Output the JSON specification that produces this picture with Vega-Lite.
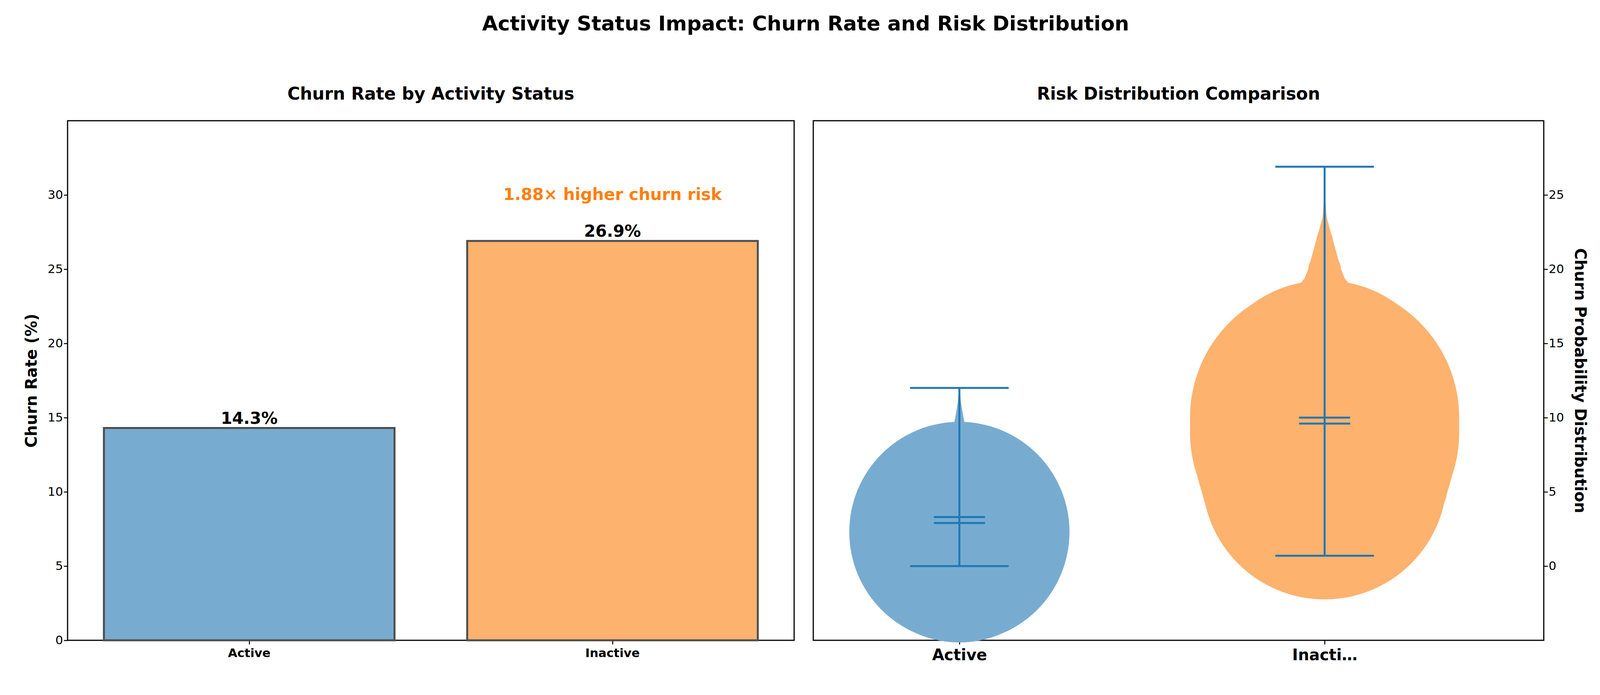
{
"$schema":"https://vega.github.io/schema/vega-lite/v6.json",
"padding":{"left":60,"top":35,"right":20,"bottom":10},
"title":{"text":"Activity Status Impact: Churn Rate and Risk Distribution","fontSize":52,"fontWeight":"bold","font":"DejaVu Sans","anchor":"middle","offset":130,"color":"#000"},
"config":{"view":{"stroke":"#000","strokeWidth":3},"font":"DejaVu Sans","axis":{"labelFont":"DejaVu Sans","titleFont":"DejaVu Sans","labelColor":"#000","titleColor":"#000","tickColor":"#000","domain":false,"tickSize":10,"tickWidth":2.5,"labelFontSize":31,"grid":false},"title":{"font":"DejaVu Sans","fontSize":44,"fontWeight":"bold","color":"#000","offset":45}},
"spacing":45,
"hconcat":[
{"width":1860,"height":1330,"title":"Churn Rate by Activity Status",
"data":{"values":[{"status":"Active","rate":14.3,"label":"14.3%"},{"status":"Inactive","rate":26.9,"label":"26.9%"}]},
"layer":[
{"mark":{"type":"bar","stroke":"#4d4d4d","strokeWidth":5},
"encoding":{"x":{"field":"status","type":"nominal","scale":{"paddingInner":0.2,"paddingOuter":0.1},"axis":{"title":null,"labelAngle":0,"labelFontWeight":"bold","labelFontSize":31,"labelPadding":8}},
"y":{"field":"rate","type":"quantitative","scale":{"domain":[0,33.5]},"axis":{"values":[0,5,10,15,20,25,30],"title":"Churn Rate (%)","titleFontSize":40,"titleFontWeight":"bold","titlePadding":20}},
"color":{"field":"status","type":"nominal","scale":{"range":["#77acd0","#fdb26e"]},"legend":null}}},
{"mark":{"type":"text","baseline":"bottom","dy":-2,"fontSize":42,"fontWeight":"bold","color":"#000"},
"encoding":{"x":{"field":"status","type":"nominal"},"y":{"field":"rate","type":"quantitative"},"text":{"field":"label"}}},
{"data":{"values":[{"status":"Inactive","y":30,"t":"1.88× higher churn risk"}]},
"mark":{"type":"text","fontSize":42,"fontWeight":"bold","color":"#ff7f0e"},
"encoding":{"x":{"field":"status","type":"nominal"},"y":{"field":"y","type":"quantitative"},"text":{"field":"t"}}}
]},
{"width":1870,"height":1330,"title":"Risk Distribution Comparison",
"layer":[
{"data":{"values":[
{"g":"Active","pos":1,"y":0.0,"w":0.0},{"g":"Active","pos":1,"y":0.1,"w":0.02},{"g":"Active","pos":1,"y":0.5,"w":0.08},{"g":"Active","pos":1,"y":1.0,"w":0.14},{"g":"Active","pos":1,"y":1.5,"w":0.21},{"g":"Active","pos":1,"y":2.0,"w":0.26},{"g":"Active","pos":1,"y":2.3,"w":0.27},{"g":"Active","pos":1,"y":3.0,"w":0.23},{"g":"Active","pos":1,"y":4.0,"w":0.19},{"g":"Active","pos":1,"y":5.0,"w":0.15},{"g":"Active","pos":1,"y":6.0,"w":0.11},{"g":"Active","pos":1,"y":6.5,"w":0.08},{"g":"Active","pos":1,"y":7.0,"w":0.06},{"g":"Active","pos":1,"y":8.0,"w":0.033},{"g":"Active","pos":1,"y":9.0,"w":0.018},{"g":"Active","pos":1,"y":10.0,"w":0.01},{"g":"Active","pos":1,"y":11.0,"w":0.004},{"g":"Active","pos":1,"y":12.0,"w":0.0},
{"g":"Inactive","pos":2,"y":0.7,"w":0.0},{"g":"Inactive","pos":2,"y":1.0,"w":0.02},{"g":"Inactive","pos":2,"y":2.0,"w":0.065},{"g":"Inactive","pos":2,"y":3.0,"w":0.12},{"g":"Inactive","pos":2,"y":4.0,"w":0.2},{"g":"Inactive","pos":2,"y":5.0,"w":0.26},{"g":"Inactive","pos":2,"y":6.0,"w":0.3},{"g":"Inactive","pos":2,"y":7.0,"w":0.31},{"g":"Inactive","pos":2,"y":8.0,"w":0.32},{"g":"Inactive","pos":2,"y":9.0,"w":0.33},{"g":"Inactive","pos":2,"y":10.0,"w":0.33},{"g":"Inactive","pos":2,"y":11.0,"w":0.3},{"g":"Inactive","pos":2,"y":12.0,"w":0.26},{"g":"Inactive","pos":2,"y":13.0,"w":0.22},{"g":"Inactive","pos":2,"y":14.0,"w":0.18},{"g":"Inactive","pos":2,"y":15.0,"w":0.14},{"g":"Inactive","pos":2,"y":16.0,"w":0.11},{"g":"Inactive","pos":2,"y":17.0,"w":0.09},{"g":"Inactive","pos":2,"y":18.0,"w":0.07},{"g":"Inactive","pos":2,"y":20.0,"w":0.04},{"g":"Inactive","pos":2,"y":22.0,"w":0.02},{"g":"Inactive","pos":2,"y":23.5,"w":0.005},{"g":"Inactive","pos":2,"y":25.0,"w":0.0}
]},
"mark":{"type":"trail"},
"encoding":{"y":{"field":"y","type":"quantitative","scale":{"domain":[-1.3,28.1]},"axis":{"orient":"right","values":[0,5,10,15,20,25],"title":"Churn Probability Distribution","titleFontSize":40,"titleFontWeight":"bold","titlePadding":20}},
"x":{"field":"pos","type":"quantitative","scale":{"domain":[0.648,2.44]},"axis":{"values":[1,2],"labelExpr":"datum.value==1?'Active':'Inactive'","title":null,"labelFontSize":40,"labelFontWeight":"bold","labelPadding":8}},
"size":{"field":"w","type":"quantitative","scale":{"type":"linear","domain":[0,1],"range":[0,2088],"zero":true},"legend":null},
"order":{"field":"y","type":"quantitative"},
"detail":{"field":"g"},
"color":{"field":"g","type":"nominal","scale":{"domain":["Active","Inactive"],"range":["#77acd0","#fdb26e"]},"legend":null}}},
{"data":{"values":[{"g":"Active","pos":1,"mn":0.0,"mx":12.0},{"g":"Inactive","pos":2,"mn":0.7,"mx":26.9}]},
"mark":{"type":"rule","color":"#1f77b4","strokeWidth":5},
"encoding":{"x":{"field":"pos","type":"quantitative"},"y":{"field":"mn","type":"quantitative"},"y2":{"field":"mx"}}},
{"data":{"values":[
{"y":0.0,"a":0.865,"b":1.135},{"y":12.0,"a":0.865,"b":1.135},{"y":3.3,"a":0.93,"b":1.07},{"y":2.9,"a":0.93,"b":1.07},
{"y":0.7,"a":1.865,"b":2.135},{"y":26.9,"a":1.865,"b":2.135},{"y":10.0,"a":1.93,"b":2.07},{"y":9.6,"a":1.93,"b":2.07}]},
"mark":{"type":"rule","color":"#1f77b4","strokeWidth":5},
"encoding":{"x":{"field":"a","type":"quantitative"},"x2":{"field":"b"},"y":{"field":"y","type":"quantitative"}}}
]}
]}
